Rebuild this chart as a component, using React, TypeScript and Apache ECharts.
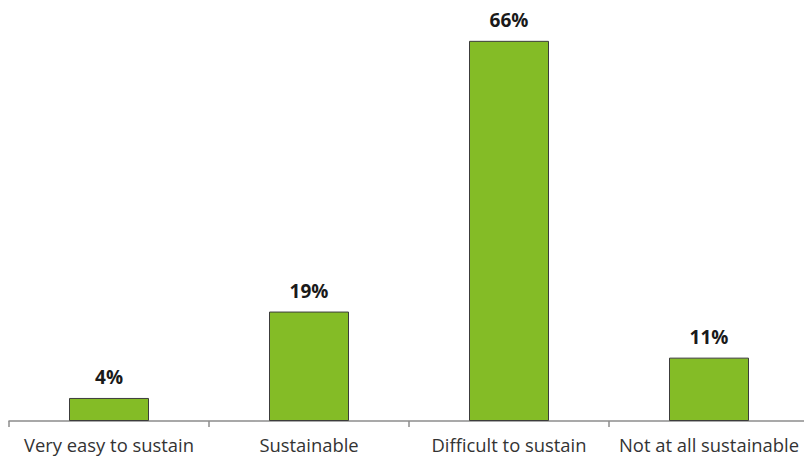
import React, { useEffect, useRef } from "react";
import * as echarts from "echarts";

const categories = ["Very easy to sustain", "Sustainable", "Difficult to sustain", "Not at all sustainable"];
const shares = [4, 19, 66, 11];

export default function App() {
  const ref = useRef<HTMLDivElement>(null);

  useEffect(() => {
    document.body.style.margin = "0";
    const chart = echarts.init(ref.current!, null, { renderer: "svg" });
    chart.setOption({
      animation: false,
      grid: { left: 9, right: 11, top: 17.8, bottom: 36 },
      xAxis: {
        type: "category",
        data: categories,
        axisLine: { lineStyle: { color: "#8c8c8c", width: 1.5 } },
        axisTick: { show: true, length: 6, lineStyle: { color: "#8c8c8c", width: 1.5 } },
        axisLabel: {
          color: "#333",
          fontFamily: "Open Sans",
          fontSize: 18.4,
          margin: 14,
          interval: 0,
        },
      },
      yAxis: {
        type: "value",
        min: 0,
        max: 70,
        show: false,
        splitLine: { show: false },
      },
      series: [
        {
          type: "bar",
          data: shares,
          barWidth: 80,
          itemStyle: { color: "#84bc26", borderColor: "#3c3c3c", borderWidth: 1 },
          label: {
            show: true,
            position: "top",
            distance: 11,
            formatter: "{c}%",
            color: "#1a1a1a",
            fontFamily: "Open Sans",
            fontWeight: "bold",
            fontSize: 19,
          },
        },
      ],
    });
    return () => chart.dispose();
  }, []);

  return (
    <div style={{ width: 804, height: 457, overflow: "hidden", position: "relative" }}>
      <div ref={ref} style={{ width: 820, height: 457, position: "absolute", left: 0, top: 0 }} />
    </div>
  );
}
